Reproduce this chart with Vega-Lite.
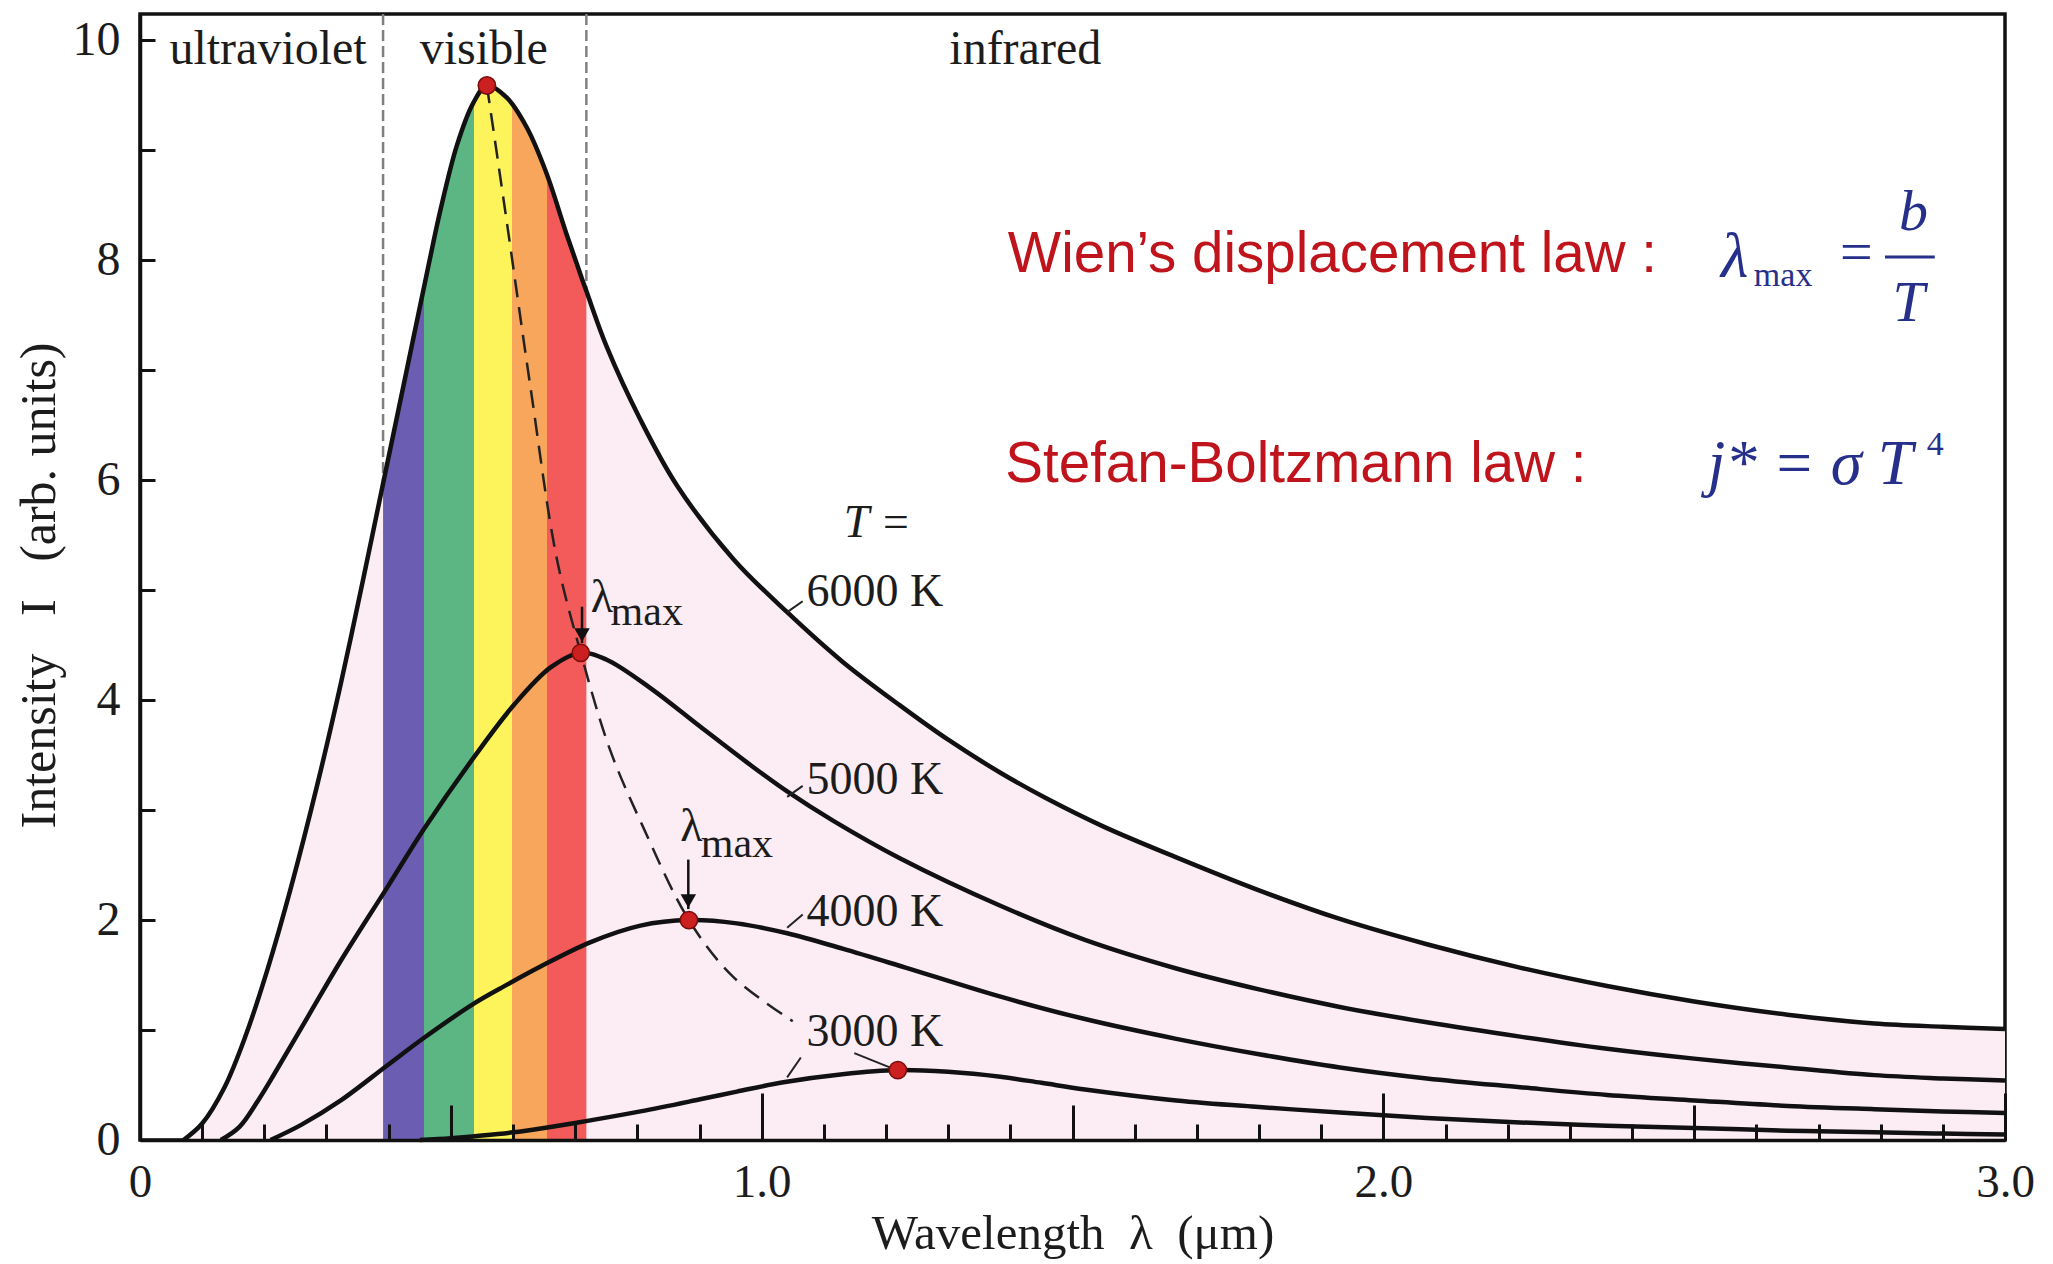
{
  "$schema": "https://vega.github.io/schema/vega-lite/v6.json",
  "width": 1865,
  "height": 1126,
  "autosize": {"type": "none"},
  "padding": {"left": 140, "top": 14, "right": 48, "bottom": 124},
  "background": "white",
  "config": {"view": {"stroke": "#111111", "strokeWidth": 3.5}},
  "datasets": {
    "curves": [
      {"T": "6000 K", "lam": 0.07, "I": 0}, {"T": "6000 K", "lam": 0.1, "I": 0.15}, {"T": "6000 K", "lam": 0.136, "I": 0.48}, {"T": "6000 K", "lam": 0.17, "I": 0.95}, {"T": "6000 K", "lam": 0.205, "I": 1.55}, {"T": "6000 K", "lam": 0.243, "I": 2.3}, {"T": "6000 K", "lam": 0.286, "I": 3.25}, {"T": "6000 K", "lam": 0.323, "I": 4.15}, {"T": "6000 K", "lam": 0.359, "I": 5.1}, {"T": "6000 K", "lam": 0.391, "I": 5.97}, {"T": "6000 K", "lam": 0.429, "I": 7.0}, {"T": "6000 K", "lam": 0.464, "I": 7.95}, {"T": "6000 K", "lam": 0.483, "I": 8.45}, {"T": "6000 K", "lam": 0.51, "I": 9.05}, {"T": "6000 K", "lam": 0.536, "I": 9.43}, {"T": "6000 K", "lam": 0.558, "I": 9.59}, {"T": "6000 K", "lam": 0.59, "I": 9.48}, {"T": "6000 K", "lam": 0.622, "I": 9.21}, {"T": "6000 K", "lam": 0.654, "I": 8.79}, {"T": "6000 K", "lam": 0.686, "I": 8.24}, {"T": "6000 K", "lam": 0.718, "I": 7.72}, {"T": "6000 K", "lam": 0.751, "I": 7.21}, {"T": "6000 K", "lam": 0.805, "I": 6.55}, {"T": "6000 K", "lam": 0.864, "I": 5.95}, {"T": "6000 K", "lam": 0.955, "I": 5.28}, {"T": "6000 K", "lam": 1.041, "I": 4.8}, {"T": "6000 K", "lam": 1.13, "I": 4.35}, {"T": "6000 K", "lam": 1.223, "I": 3.95}, {"T": "6000 K", "lam": 1.3, "I": 3.64}, {"T": "6000 K", "lam": 1.384, "I": 3.34}, {"T": "6000 K", "lam": 1.457, "I": 3.11}, {"T": "6000 K", "lam": 1.55, "I": 2.85}, {"T": "6000 K", "lam": 1.667, "I": 2.57}, {"T": "6000 K", "lam": 1.8, "I": 2.27}, {"T": "6000 K", "lam": 1.93, "I": 2.01}, {"T": "6000 K", "lam": 2.07, "I": 1.78}, {"T": "6000 K", "lam": 2.218, "I": 1.57}, {"T": "6000 K", "lam": 2.36, "I": 1.4}, {"T": "6000 K", "lam": 2.5, "I": 1.26}, {"T": "6000 K", "lam": 2.65, "I": 1.14}, {"T": "6000 K", "lam": 2.79, "I": 1.06}, {"T": "6000 K", "lam": 2.9, "I": 1.03}, {"T": "6000 K", "lam": 3.0, "I": 1.01},
      {"T": "5000 K", "lam": 0.13, "I": 0}, {"T": "5000 K", "lam": 0.16, "I": 0.12}, {"T": "5000 K", "lam": 0.19, "I": 0.36}, {"T": "5000 K", "lam": 0.216, "I": 0.6}, {"T": "5000 K", "lam": 0.27, "I": 1.12}, {"T": "5000 K", "lam": 0.323, "I": 1.63}, {"T": "5000 K", "lam": 0.398, "I": 2.3}, {"T": "5000 K", "lam": 0.457, "I": 2.83}, {"T": "5000 K", "lam": 0.537, "I": 3.48}, {"T": "5000 K", "lam": 0.602, "I": 3.96}, {"T": "5000 K", "lam": 0.661, "I": 4.3}, {"T": "5000 K", "lam": 0.709, "I": 4.43}, {"T": "5000 K", "lam": 0.75, "I": 4.37}, {"T": "5000 K", "lam": 0.821, "I": 4.11}, {"T": "5000 K", "lam": 0.901, "I": 3.76}, {"T": "5000 K", "lam": 0.982, "I": 3.41}, {"T": "5000 K", "lam": 1.041, "I": 3.17}, {"T": "5000 K", "lam": 1.116, "I": 2.9}, {"T": "5000 K", "lam": 1.223, "I": 2.56}, {"T": "5000 K", "lam": 1.384, "I": 2.13}, {"T": "5000 K", "lam": 1.52, "I": 1.82}, {"T": "5000 K", "lam": 1.667, "I": 1.56}, {"T": "5000 K", "lam": 1.8, "I": 1.37}, {"T": "5000 K", "lam": 1.93, "I": 1.21}, {"T": "5000 K", "lam": 2.07, "I": 1.07}, {"T": "5000 K", "lam": 2.22, "I": 0.94}, {"T": "5000 K", "lam": 2.36, "I": 0.83}, {"T": "5000 K", "lam": 2.5, "I": 0.74}, {"T": "5000 K", "lam": 2.65, "I": 0.66}, {"T": "5000 K", "lam": 2.79, "I": 0.59}, {"T": "5000 K", "lam": 2.9, "I": 0.56}, {"T": "5000 K", "lam": 3.0, "I": 0.54},
      {"T": "4000 K", "lam": 0.21, "I": 0}, {"T": "4000 K", "lam": 0.26, "I": 0.14}, {"T": "4000 K", "lam": 0.323, "I": 0.36}, {"T": "4000 K", "lam": 0.398, "I": 0.68}, {"T": "4000 K", "lam": 0.457, "I": 0.93}, {"T": "4000 K", "lam": 0.537, "I": 1.24}, {"T": "4000 K", "lam": 0.58, "I": 1.38}, {"T": "4000 K", "lam": 0.645, "I": 1.58}, {"T": "4000 K", "lam": 0.725, "I": 1.8}, {"T": "4000 K", "lam": 0.805, "I": 1.95}, {"T": "4000 K", "lam": 0.883, "I": 2.0}, {"T": "4000 K", "lam": 0.96, "I": 1.97}, {"T": "4000 K", "lam": 1.041, "I": 1.88}, {"T": "4000 K", "lam": 1.13, "I": 1.74}, {"T": "4000 K", "lam": 1.23, "I": 1.57}, {"T": "4000 K", "lam": 1.38, "I": 1.31}, {"T": "4000 K", "lam": 1.52, "I": 1.1}, {"T": "4000 K", "lam": 1.667, "I": 0.92}, {"T": "4000 K", "lam": 1.8, "I": 0.78}, {"T": "4000 K", "lam": 1.93, "I": 0.66}, {"T": "4000 K", "lam": 2.07, "I": 0.56}, {"T": "4000 K", "lam": 2.22, "I": 0.48}, {"T": "4000 K", "lam": 2.36, "I": 0.41}, {"T": "4000 K", "lam": 2.5, "I": 0.36}, {"T": "4000 K", "lam": 2.65, "I": 0.31}, {"T": "4000 K", "lam": 2.79, "I": 0.28}, {"T": "4000 K", "lam": 2.9, "I": 0.26}, {"T": "4000 K", "lam": 3.0, "I": 0.245},
      {"T": "3000 K", "lam": 0.45, "I": 0}, {"T": "3000 K", "lam": 0.5, "I": 0.015}, {"T": "3000 K", "lam": 0.55, "I": 0.04}, {"T": "3000 K", "lam": 0.6, "I": 0.07}, {"T": "3000 K", "lam": 0.65, "I": 0.11}, {"T": "3000 K", "lam": 0.7, "I": 0.155}, {"T": "3000 K", "lam": 0.805, "I": 0.26}, {"T": "3000 K", "lam": 0.901, "I": 0.37}, {"T": "3000 K", "lam": 0.96, "I": 0.44}, {"T": "3000 K", "lam": 1.035, "I": 0.525}, {"T": "3000 K", "lam": 1.13, "I": 0.598}, {"T": "3000 K", "lam": 1.219, "I": 0.636}, {"T": "3000 K", "lam": 1.3, "I": 0.62}, {"T": "3000 K", "lam": 1.384, "I": 0.575}, {"T": "3000 K", "lam": 1.45, "I": 0.52}, {"T": "3000 K", "lam": 1.52, "I": 0.46}, {"T": "3000 K", "lam": 1.667, "I": 0.36}, {"T": "3000 K", "lam": 1.8, "I": 0.3}, {"T": "3000 K", "lam": 1.93, "I": 0.25}, {"T": "3000 K", "lam": 2.07, "I": 0.2}, {"T": "3000 K", "lam": 2.22, "I": 0.16}, {"T": "3000 K", "lam": 2.36, "I": 0.13}, {"T": "3000 K", "lam": 2.5, "I": 0.11}, {"T": "3000 K", "lam": 2.65, "I": 0.085}, {"T": "3000 K", "lam": 2.79, "I": 0.07}, {"T": "3000 K", "lam": 2.9, "I": 0.058}, {"T": "3000 K", "lam": 3.0, "I": 0.05}
    ],
    "locus": [
      {"lam": 0.558, "I": 9.59}, {"lam": 0.59, "I": 8.35}, {"lam": 0.628, "I": 6.85}, {"lam": 0.67, "I": 5.3}, {"lam": 0.709, "I": 4.43}, {"lam": 0.756, "I": 3.55}, {"lam": 0.809, "I": 2.85}, {"lam": 0.883, "I": 2.0}, {"lam": 0.953, "I": 1.49}, {"lam": 1.05, "I": 1.08}
    ],
    "peaks": [
      {"T": "6000 K", "lam": 0.558, "I": 9.59}, {"T": "5000 K", "lam": 0.709, "I": 4.43}, {"T": "4000 K", "lam": 0.883, "I": 2.0}, {"T": "3000 K", "lam": 1.219, "I": 0.636}
    ],
    "arrows": [
      {"lam": 0.711, "I": 4.85, "I2": 4.52}, {"lam": 0.882, "I": 2.55, "I2": 2.1}
    ],
    "leaders": [
      {"lam": 1.041, "I": 4.8, "lam2": 1.066, "I2": 4.9},
      {"lam": 1.041, "I": 3.12, "lam2": 1.066, "I2": 3.22},
      {"lam": 1.041, "I": 1.93, "lam2": 1.066, "I2": 2.05},
      {"lam": 1.041, "I": 0.57, "lam2": 1.063, "I2": 0.75},
      {"lam": 1.149, "I": 0.79, "lam2": 1.206, "I2": 0.66}
    ],
    "boundaries": [{"lam": 0.391}, {"lam": 0.718}],
    "fraction": [{"lam": 2.807, "lam2": 2.887, "I": 8.03}],
    "regions": [
      {"name": "ultraviolet", "lam": 0.206, "I": 9.91},
      {"name": "visible", "lam": 0.553, "I": 9.91},
      {"name": "infrared", "lam": 1.424, "I": 9.91}
    ],
    "temps": [
      {"name": "6000 K", "lam": 1.072, "I": 4.98},
      {"name": "5000 K", "lam": 1.072, "I": 3.27},
      {"name": "4000 K", "lam": 1.072, "I": 2.07},
      {"name": "3000 K", "lam": 1.072, "I": 0.98}
    ],
    "tEquals": [{"name": "T =", "lam": 1.186, "I": 5.61}],
    "lambdas": [{"name": "λ", "lam": 0.725, "I": 4.93}, {"name": "λ", "lam": 0.869, "I": 2.85}],
    "maxes": [{"name": "max", "lam": 0.757, "I": 4.8}, {"name": "max", "lam": 0.902, "I": 2.69}],
    "laws": [
      {"name": "Wien’s displacement law :", "lam": 1.396, "I": 8.05},
      {"name": "Stefan-Boltzmann law :", "lam": 1.392, "I": 6.14}
    ],
    "eqLeft": [
      {"name": "λ", "lam": 2.543, "I": 8.02},
      {"name": "j* = σ T", "lam": 2.522, "I": 6.14}
    ],
    "eqCenter": [
      {"name": "=", "lam": 2.76, "I": 8.06},
      {"name": "b", "lam": 2.853, "I": 8.43},
      {"name": "T", "lam": 2.845, "I": 7.6}
    ],
    "eqSmall": [
      {"name": "max", "lam": 2.596, "I": 7.86},
      {"name": "4", "lam": 2.874, "I": 6.32}
    ]
  },
  "layer": [
    {
      "data": {"name": "boundaries"},
      "mark": {"type": "rule", "color": "#808080", "strokeWidth": 2.5, "strokeDash": [11, 5]},
      "encoding": {"x": {"field": "lam", "type": "quantitative", "scale": {"domain": [0, 3], "nice": false, "zero": false}}}
    },
    {
      "data": {"name": "curves"},
      "transform": [{"filter": "datum.T === '6000 K'"}],
      "mark": {"type": "area", "color": "#fcedf5", "interpolate": "catmull-rom"},
      "encoding": {
        "x": {
          "field": "lam", "type": "quantitative",
          "scale": {"domain": [0, 3], "nice": false, "zero": false},
          "axis": {
            "values": [0, 0.1, 0.2, 0.3, 0.4, 0.5, 0.6, 0.7, 0.8, 0.9, 1, 1.1, 1.2, 1.3, 1.4, 1.5, 1.6, 1.7, 1.8, 1.9, 2, 2.1, 2.2, 2.3, 2.4, 2.5, 2.6, 2.7, 2.8, 2.9, 3],
            "title": "Wavelength\u00a0\u00a0λ\u00a0\u00a0(μm)",
            "titleFont": "Liberation Serif", "titleFontSize": 49, "titleFontWeight": "normal", "titleColor": "#1c1c1c",
            "titleBaseline": "middle", "titleY": 93,
            "labelExpr": "datum.value == 0 ? '0' : (datum.value % 1 == 0 ? format(datum.value, '.1f') : '')",
            "labelFont": "Liberation Serif", "labelFontSize": 47, "labelColor": "#1c1c1c",
            "labelBaseline": "middle", "labelPadding": 89,
            "labelFlush": false, "labelOverlap": false, "labelBound": false,
            "tickSize": {"condition": [{"test": "datum.value % 1 == 0", "value": -47}, {"test": "datum.value % 0.5 == 0", "value": -35}], "value": -16},
            "tickWidth": 3, "tickColor": "#111111",
            "domainColor": "#111111", "domainWidth": 3.5,
            "grid": false, "zindex": 1
          }
        },
        "y": {
          "field": "I", "type": "quantitative",
          "scale": {"domain": [0, 10.24], "nice": false},
          "axis": {
            "values": [0, 1, 2, 3, 4, 5, 6, 7, 8, 9, 10],
            "title": "Intensity\u00a0\u00a0\u00a0I\u00a0\u00a0\u00a0(arb. units)",
            "titleFont": "Liberation Serif", "titleFontSize": 50, "titleFontWeight": "normal", "titleColor": "#1c1c1c",
            "titleAngle": -90, "titleX": -101, "titleY": 571, "titleBaseline": "middle", "titleAlign": "center",
            "labelExpr": "datum.value % 2 == 0 ? format(datum.value, 'd') : ''",
            "labelFont": "Liberation Serif", "labelFontSize": 48, "labelColor": "#1c1c1c",
            "labelPadding": 35, "labelFlush": false, "labelOverlap": false, "labelBound": false,
            "tickSize": -15, "tickWidth": 3, "tickColor": "#111111",
            "domainColor": "#111111", "domainWidth": 3.5,
            "grid": false, "zindex": 1
          }
        }
      }
    },
    {
      "data": {"name": "curves"},
      "transform": [{"filter": "datum.T === '6000 K' && datum.lam >= 0.391 && datum.lam <= 0.718"}],
      "mark": {
        "type": "area", "interpolate": "catmull-rom",
        "fill": {
          "gradient": "linear", "x1": 0, "x2": 1, "y1": 0, "y2": 0,
          "stops": [
            {"offset": 0, "color": "#6b5db2"}, {"offset": 0.199, "color": "#6b5db2"},
            {"offset": 0.199, "color": "#5cb684"}, {"offset": 0.446, "color": "#5cb684"},
            {"offset": 0.446, "color": "#fcf45a"}, {"offset": 0.633, "color": "#fcf45a"},
            {"offset": 0.633, "color": "#f8a65c"}, {"offset": 0.807, "color": "#f8a65c"},
            {"offset": 0.807, "color": "#f35b5b"}, {"offset": 1, "color": "#f35b5b"}
          ]
        }
      },
      "encoding": {
        "x": {"field": "lam", "type": "quantitative"},
        "y": {"field": "I", "type": "quantitative"}
      }
    },
    {
      "data": {"name": "curves"},
      "mark": {"type": "line", "color": "#111111", "strokeWidth": 4.5, "interpolate": "catmull-rom"},
      "encoding": {
        "x": {"field": "lam", "type": "quantitative"},
        "y": {"field": "I", "type": "quantitative"},
        "detail": {"field": "T"}
      }
    },
    {
      "data": {"name": "locus"},
      "mark": {"type": "line", "color": "#222222", "strokeWidth": 2.5, "strokeDash": [18, 10], "interpolate": "catmull-rom"},
      "encoding": {
        "x": {"field": "lam", "type": "quantitative"},
        "y": {"field": "I", "type": "quantitative"}
      }
    },
    {
      "data": {"name": "arrows"},
      "mark": {"type": "rule", "color": "#111111", "strokeWidth": 2.5},
      "encoding": {
        "x": {"field": "lam", "type": "quantitative"},
        "y": {"field": "I", "type": "quantitative"},
        "y2": {"field": "I2"}
      }
    },
    {
      "data": {"name": "arrows"},
      "mark": {"type": "point", "shape": "triangle-down", "filled": true, "color": "#111111", "size": 240, "opacity": 1, "yOffset": -8},
      "encoding": {
        "x": {"field": "lam", "type": "quantitative"},
        "y": {"field": "I2", "type": "quantitative"}
      }
    },
    {
      "data": {"name": "leaders"},
      "mark": {"type": "rule", "color": "#222222", "strokeWidth": 2},
      "encoding": {
        "x": {"field": "lam", "type": "quantitative"},
        "y": {"field": "I", "type": "quantitative"},
        "x2": {"field": "lam2"},
        "y2": {"field": "I2"}
      }
    },
    {
      "data": {"name": "peaks"},
      "mark": {"type": "point", "filled": true, "fill": "#cc1f1f", "stroke": "#7a0c0c", "strokeWidth": 1.5, "size": 300, "opacity": 1},
      "encoding": {
        "x": {"field": "lam", "type": "quantitative"},
        "y": {"field": "I", "type": "quantitative"}
      }
    },
    {
      "data": {"name": "fraction"},
      "mark": {"type": "rule", "color": "#26308a", "strokeWidth": 3},
      "encoding": {
        "x": {"field": "lam", "type": "quantitative"},
        "x2": {"field": "lam2"},
        "y": {"field": "I", "type": "quantitative"}
      }
    },
    {
      "data": {"name": "regions"},
      "mark": {"type": "text", "font": "Liberation Serif", "fontSize": 48, "color": "#1c1c1c", "align": "center", "baseline": "middle"},
      "encoding": {
        "x": {"field": "lam", "type": "quantitative"},
        "y": {"field": "I", "type": "quantitative"},
        "text": {"field": "name"}
      }
    },
    {
      "data": {"name": "temps"},
      "mark": {"type": "text", "font": "Liberation Serif", "fontSize": 46, "color": "#1c1c1c", "align": "left", "baseline": "middle"},
      "encoding": {
        "x": {"field": "lam", "type": "quantitative"},
        "y": {"field": "I", "type": "quantitative"},
        "text": {"field": "name"}
      }
    },
    {
      "data": {"name": "tEquals"},
      "mark": {"type": "text", "font": "Liberation Serif", "fontStyle": "italic", "fontSize": 46, "color": "#1c1c1c", "align": "center", "baseline": "middle"},
      "encoding": {
        "x": {"field": "lam", "type": "quantitative"},
        "y": {"field": "I", "type": "quantitative"},
        "text": {"field": "name"}
      }
    },
    {
      "data": {"name": "lambdas"},
      "mark": {"type": "text", "font": "Liberation Serif", "fontSize": 46, "color": "#1c1c1c", "align": "left", "baseline": "middle"},
      "encoding": {
        "x": {"field": "lam", "type": "quantitative"},
        "y": {"field": "I", "type": "quantitative"},
        "text": {"field": "name"}
      }
    },
    {
      "data": {"name": "maxes"},
      "mark": {"type": "text", "font": "Liberation Serif", "fontSize": 42, "color": "#1c1c1c", "align": "left", "baseline": "middle"},
      "encoding": {
        "x": {"field": "lam", "type": "quantitative"},
        "y": {"field": "I", "type": "quantitative"},
        "text": {"field": "name"}
      }
    },
    {
      "data": {"name": "laws"},
      "mark": {"type": "text", "font": "Liberation Sans", "fontSize": 56.5, "color": "#c0141c", "align": "left", "baseline": "middle"},
      "encoding": {
        "x": {"field": "lam", "type": "quantitative"},
        "y": {"field": "I", "type": "quantitative"},
        "text": {"field": "name"}
      }
    },
    {
      "data": {"name": "eqLeft"},
      "mark": {"type": "text", "font": "Liberation Serif", "fontStyle": "italic", "fontSize": 63, "color": "#26308a", "align": "left", "baseline": "middle"},
      "encoding": {
        "x": {"field": "lam", "type": "quantitative"},
        "y": {"field": "I", "type": "quantitative"},
        "text": {"field": "name"}
      }
    },
    {
      "data": {"name": "eqCenter"},
      "mark": {"type": "text", "font": "Liberation Serif", "fontStyle": "italic", "fontSize": 58, "color": "#26308a", "align": "center", "baseline": "middle"},
      "encoding": {
        "x": {"field": "lam", "type": "quantitative"},
        "y": {"field": "I", "type": "quantitative"},
        "text": {"field": "name"}
      }
    },
    {
      "data": {"name": "eqSmall"},
      "mark": {"type": "text", "font": "Liberation Serif", "fontSize": 34, "color": "#26308a", "align": "left", "baseline": "middle"},
      "encoding": {
        "x": {"field": "lam", "type": "quantitative"},
        "y": {"field": "I", "type": "quantitative"},
        "text": {"field": "name"}
      }
    }
  ]
}
